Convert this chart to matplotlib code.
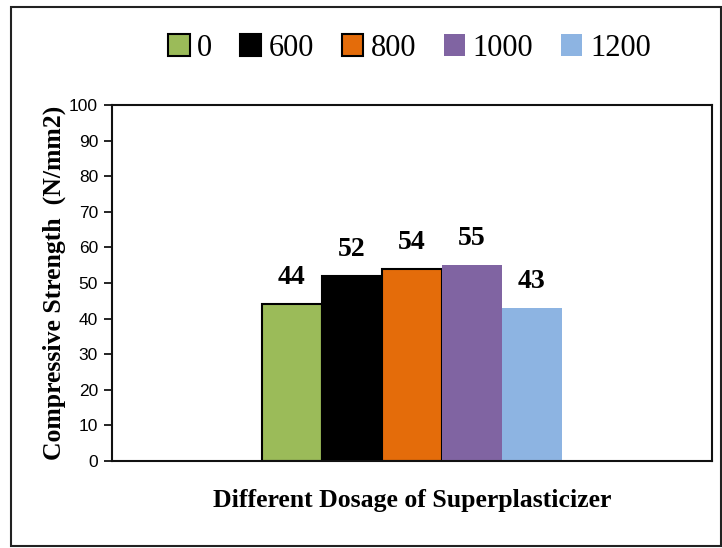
import numpy as np
import matplotlib.pyplot as plt
from matplotlib.patches import Rectangle

# dosage of superplasticizer and strength values
dosages = ['0', '600', '800', '1000', '1200']
strength = [44, 52, 54, 55, 43]
colors = ['#9BBB59', '#000000', '#E46C0A', '#8064A2', '#8DB4E2']
edges = ['#000000', '#000000', '#000000', 'none', 'none']

serif = ['Liberation Serif', 'DejaVu Serif']
sans = ['Liberation Sans', 'DejaVu Sans']

fig = plt.figure(figsize=(7.22, 5.48), dpi=100)
ax = fig.add_axes([0.155, 0.159, 0.831, 0.649])

w = 0.1
x = (np.arange(len(strength)) - 2) * w
for i in range(len(strength)):
    ax.bar(x[i], strength[i], width=w, color=colors[i], edgecolor=edges[i],
           linewidth=1.5, label=dosages[i])
    ax.text(x[i], strength[i] + 4, str(strength[i]), ha='center', va='bottom',
            fontsize=20, fontweight='bold', family=serif)

ax.set_xlim(-0.5, 0.5)
ax.set_ylim(0, 100)
ax.set_yticks(range(0, 101, 10))
ax.set_xticks([])
for lab in ax.get_yticklabels():
    lab.set_family(sans)
    lab.set_fontsize(12.5)
ax.tick_params(axis='y', direction='out', length=6, width=1.2, pad=4)
for s in ax.spines.values():
    s.set_linewidth(1.5)
    s.set_color('#111111')

ax.set_ylabel('Compressive Strength  (N/mm2)', fontsize=18.5, fontweight='bold',
              family=serif, labelpad=2)
ax.set_xlabel('Different Dosage of Superplasticizer', fontsize=18.5,
              fontweight='bold', family=serif, labelpad=20)

leg = fig.legend(loc='center', bbox_to_anchor=(0.567, 0.912), ncol=5,
                 frameon=False, prop={'family': serif, 'size': 22},
                 handlelength=0.7, handleheight=0.7, handletextpad=0.25,
                 columnspacing=0.9)

fig.add_artist(Rectangle((0.015, 0.003), 0.983, 0.985, transform=fig.transFigure,
                         fill=False, edgecolor='#222222', linewidth=1.5))

fig.savefig('out.png', dpi=100)
